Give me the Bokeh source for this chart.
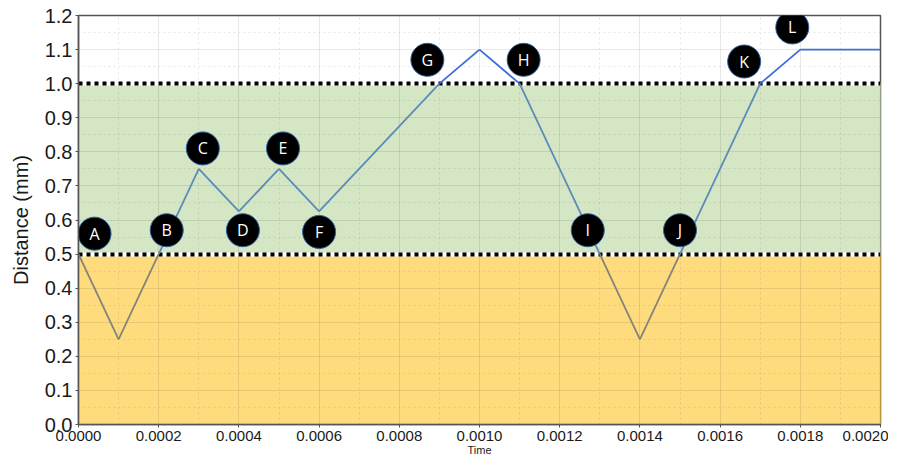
from bokeh.plotting import figure
from bokeh.models import FixedTicker, PrintfTickFormatter, Range1d
from bokeh.core.properties import value
from bokeh.embed import file_html
from bokeh.resources import INLINE

# ---- data ----
time = [0.0000, 0.0001, 0.0002, 0.0003, 0.0004, 0.0005, 0.0006, 0.0009,
        0.0010, 0.0011, 0.0013, 0.0014, 0.0015, 0.0017, 0.0018, 0.0020]
distance = [0.5, 0.25, 0.5, 0.75, 0.625, 0.75, 0.625, 1.0,
            1.1, 1.0, 0.5, 0.25, 0.5, 1.0, 1.1, 1.1]

band_low = [0.0, 0.5]
band_high = [0.5, 1.0]
band_fill = ["#fedc7e", "#d4e6c4"]
band_edge = ["#f0b424", "#b4d09c"]
thresholds = [0.5, 1.0]

label_names = ["A", "B", "C", "D", "E", "F", "G", "H", "I", "J", "K", "L"]
label_x = [0.00004, 0.00022, 0.00031, 0.00041, 0.00051, 0.00060,
           0.00087, 0.00111, 0.00127, 0.00150, 0.00166, 0.00178]
label_y = [0.56, 0.57, 0.81, 0.57, 0.81, 0.565,
           1.07, 1.07, 0.57, 0.57, 1.065, 1.165]

x_ticks = [0.0000, 0.0002, 0.0004, 0.0006, 0.0008, 0.0010,
           0.0012, 0.0014, 0.0016, 0.0018, 0.0020]
x_minor = [0.0001, 0.0003, 0.0005, 0.0007, 0.0009, 0.0011,
           0.0013, 0.0015, 0.0017, 0.0019]
y_ticks = [0.0, 0.1, 0.2, 0.3, 0.4, 0.5, 0.6, 0.7, 0.8, 0.9, 1.0, 1.1, 1.2]
y_minor = [0.05, 0.15, 0.25, 0.35, 0.45, 0.55, 0.65, 0.75, 0.85, 0.95, 1.05, 1.15]

# ---- figure ----
p = figure(width=888, height=458, output_backend="svg", toolbar_location=None,
           x_range=Range1d(x_ticks[0], x_ticks[-1]),
           y_range=Range1d(y_ticks[0], y_ticks[-1]),
           min_border_left=78, min_border_right=8, min_border_top=15,
           min_border_bottom=0)
p.background_fill_color = "white"
p.border_fill_color = "white"
p.outline_line_color = "#555555"
p.outline_line_width = 1.5

# bands
p.quad(left=x_ticks[0], right=x_ticks[-1], bottom=band_low, top=band_high,
       fill_color=band_fill, line_color=band_edge, line_width=1.5, level="image")

# grid
p.xaxis.ticker = FixedTicker(ticks=x_ticks, minor_ticks=x_minor)
p.yaxis.ticker = FixedTicker(ticks=y_ticks, minor_ticks=y_minor)
for g in (p.xgrid, p.ygrid):
    g.grid_line_color = "black"
    g.grid_line_alpha = 0.09
    g.minor_grid_line_color = "black"
    g.minor_grid_line_alpha = 0.09
    g.minor_grid_line_dash = "2 3"

# thresholds
p.hspan(y=thresholds, line_color="white", line_width=4)
p.hspan(y=thresholds, line_color="black", line_width=4, line_dash="4 4")

# line segments coloured by region
x0, y0, x1, y1, cols = [], [], [], [], []
for i in range(len(time) - 1):
    mid = (distance[i] + distance[i + 1]) / 2
    if mid > thresholds[1]:
        c = "#3a6fd6"
    elif mid >= thresholds[0]:
        c = "#5b8bb8"
    else:
        c = "#84847a"
    x0.append(time[i]); y0.append(distance[i])
    x1.append(time[i + 1]); y1.append(distance[i + 1])
    cols.append(c)
p.segment(x0=x0, y0=y0, x1=x1, y1=y1, line_color=cols, line_width=1.8)

# labels
p.scatter(x=label_x, y=label_y, size=33, fill_color="black",
          line_color="#2f5f9f", line_width=1)
p.text(x=label_x, y=label_y, text=label_names, text_color="white",
       text_align="center", text_baseline="middle",
       text_font=value("Open Sans"), text_font_size="16px")

# axes
p.xaxis.formatter = PrintfTickFormatter(format="%.4f")
p.yaxis.formatter = PrintfTickFormatter(format="%.1f")
for ax in (p.xaxis, p.yaxis):
    ax.axis_line_color = "#555555"
    ax.axis_line_width = 1.5
    ax.major_tick_line_color = "#555555"
    ax.major_tick_in = 0
    ax.major_tick_out = 3
    ax.minor_tick_line_color = None
    ax.major_label_text_color = "#1a1a1a"
    ax.axis_label_text_color = "#1a1a1a"
    ax.axis_label_text_font_style = "normal"

p.yaxis.major_label_text_font = "Liberation Sans"
p.yaxis.major_label_text_font_size = "20px"
p.yaxis.major_label_standoff = 2
p.yaxis.axis_label = "Distance (mm)"
p.yaxis.axis_label_text_font = "Liberation Sans"
p.yaxis.axis_label_text_font_size = "20px"
p.yaxis.axis_label_standoff = 10

p.xaxis.major_label_text_font = "Liberation Sans"
p.xaxis.major_label_text_font_size = "15px"
p.xaxis.major_label_standoff = 2
p.xaxis.axis_label = "Time"
p.xaxis.axis_label_text_font = "Liberation Sans"
p.xaxis.axis_label_text_font_size = "11px"
p.xaxis.axis_label_standoff = 0

open("out.html", "w").write(file_html(p, INLINE))
